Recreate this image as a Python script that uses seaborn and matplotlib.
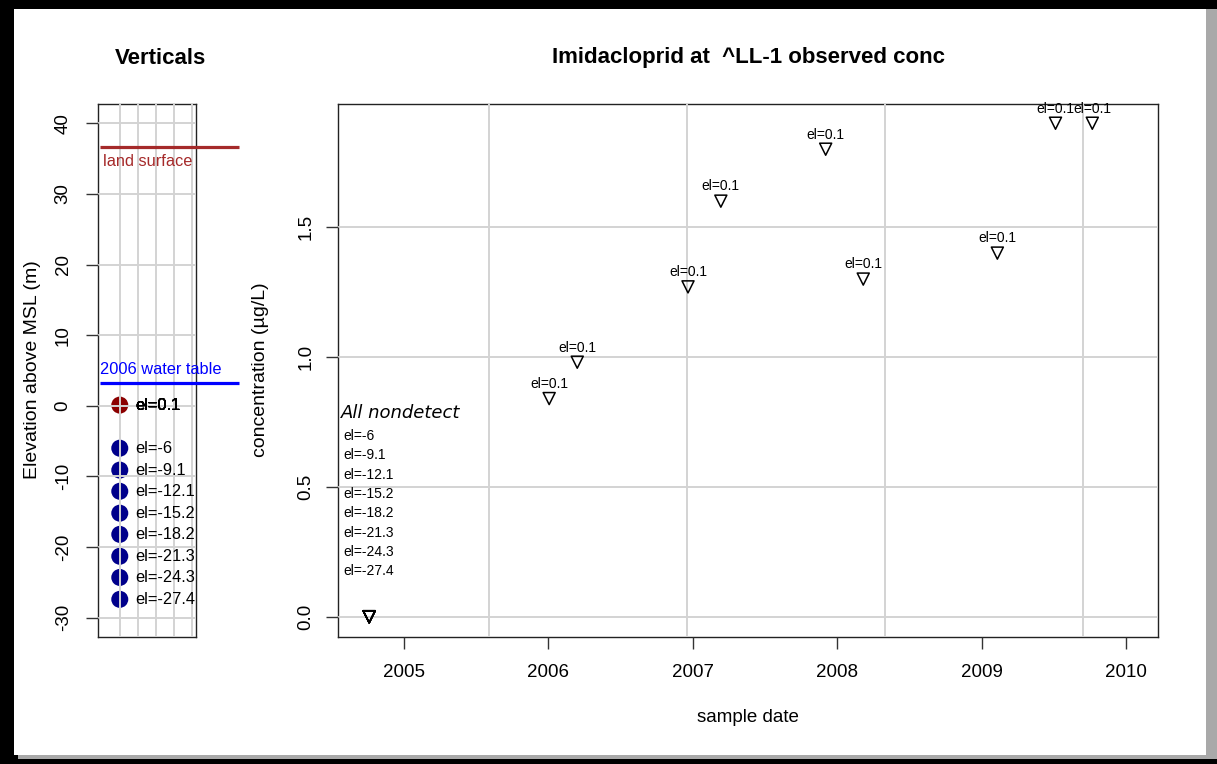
import numpy as np
import pandas as pd
import matplotlib
matplotlib.use("Agg")
import matplotlib.pyplot as plt
import seaborn as sns
from matplotlib.patches import Rectangle
from matplotlib.ticker import FixedLocator, NullFormatter

# ---------------- data ----------------
well_elev = [0.1, -6, -9.1, -12.1, -15.2, -18.2, -21.3, -24.3, -27.4]
well_status = ["detect", "nondetect", "nondetect", "nondetect", "nondetect",
               "nondetect", "nondetect", "nondetect", "nondetect"]
land_surface = 36.6
water_table_2006 = 3.2

detect_dates = ["2006-01-03", "2006-03-15", "2006-12-20", "2007-03-13", "2007-12-03",
                "2008-03-07", "2009-02-09", "2009-07-06", "2009-10-07"]
detect_conc = [0.84, 0.98, 1.27, 1.60, 1.80, 1.30, 1.40, 1.90, 1.90]
detect_el = [0.1] * len(detect_dates)

nondetect_date = "2004-10-05"
nondetect_conc = 0.0

elev_ticks = [-30, -20, -10, 0, 10, 20, 30, 40]
conc_ticks = [0.0, 0.5, 1.0, 1.5]
conc_tick_labels = ["0.0", "0.5", "1.0", "1.5"]
years = [2005, 2006, 2007, 2008, 2009, 2010]
grid_days = [13000, 13500, 14000, 14500]  # R pretty() grid on date axis (days)

# ---------------- tables ----------------
wells = pd.DataFrame({"el": well_elev, "status": well_status})
wells["col"] = 1
nd_elevs = wells.loc[wells.status == "nondetect", "el"].tolist()
samples = pd.concat([
    pd.DataFrame({"date": pd.to_datetime(detect_dates), "conc": detect_conc,
                  "el": detect_el, "status": "detect"}),
    pd.DataFrame({"date": pd.to_datetime([nondetect_date] * len(nd_elevs)),
                  "conc": nondetect_conc, "el": nd_elevs, "status": "nondetect"}),
], ignore_index=True)

# ---------------- style ----------------
sns.set_theme(style="white")
plt.rcParams["font.family"] = ["Liberation Sans", "DejaVu Sans"]
plt.rcParams["axes.edgecolor"] = "#222222"
plt.rcParams["axes.linewidth"] = 1.0
plt.rcParams["text.color"] = "black"
plt.rcParams["axes.labelcolor"] = "black"
plt.rcParams["xtick.color"] = "black"
plt.rcParams["ytick.color"] = "black"

W, H = 1217, 764
fig = plt.figure(figsize=(W / 100, H / 100), dpi=100, facecolor="black")
fig.patches.append(Rectangle((14 / W, (H - 755) / H), (1206 - 14) / W, (755 - 9) / H,
                             transform=fig.transFigure, facecolor="white",
                             edgecolor="none", zorder=-10))
fig.patches.append(Rectangle((1206 / W, (H - 759) / H), 11 / W, (759 - 9) / H,
                             transform=fig.transFigure, facecolor="#a9a9a9",
                             edgecolor="none", zorder=-10))
fig.patches.append(Rectangle((18 / W, (H - 759) / H), (W - 18) / W, 4 / H,
                             transform=fig.transFigure, facecolor="#a9a9a9",
                             edgecolor="none", zorder=-10))

grid_col = "#d3d3d3"
tick_fs = 13.5

# ---------------- left panel ----------------
axL = fig.add_axes([98 / W, (H - 636.5) / H, 98 / W, 533 / H])
axL.set_facecolor("white")
sns.scatterplot(data=wells, x="col", y="el", hue="status",
                palette={"detect": "#8b0000", "nondetect": "#00008b"},
                s=150, linewidth=0, legend=False, ax=axL, zorder=1)
for _, r in samples.iterrows():
    t = axL.annotate(f"el={r.el:g}", (1, r.el), xytext=(11.5, 0), textcoords="offset points",
                     ha="left", va="center", fontsize=11.8, color="black")
    t.set_clip_on(True)
    t.set_clip_path(axL.patch)
axL.plot([-0.09, 7.57], [land_surface] * 2, color="#a52a2a", lw=2.3, clip_on=False,
         solid_capstyle="butt", zorder=3)
axL.annotate("land surface", (0.075, land_surface), xytext=(0, -4.5),
             textcoords="offset points", ha="left", va="top", color="#a52a2a", fontsize=11.8)
axL.plot([-0.09, 7.57], [water_table_2006] * 2, color="#0000ff", lw=2.3, clip_on=False,
         solid_capstyle="butt", zorder=3)
axL.annotate("2006 water table", (-0.09, water_table_2006), xytext=(0, 6.3),
             textcoords="offset points", ha="left", va="baseline", color="#0000ff",
             fontsize=11.8)
axL.set_xlim(-0.2, 5.2)
axL.set_ylim(-32.66, 42.8)
axL.set_xticks([1, 2, 3, 4, 5])
axL.set_xticklabels([])
axL.set_yticks(elev_ticks)
axL.set_yticklabels([str(t) for t in elev_ticks])
axL.tick_params(axis="x", length=0)
axL.tick_params(axis="y", left=True, length=8.4, width=1, color="#333333",
                labelsize=tick_fs, labelrotation=90, pad=10.5, labelcolor="black")
for lab in axL.get_yticklabels():
    lab.set_va("center")
axL.set_axisbelow(False)
axL.grid(True, color=grid_col, lw=1.4)
axL.set_xlabel("")
axL.set_ylabel("Elevation above MSL (m)", fontsize=14)
axL.yaxis.set_label_coords(-0.58, 0.5)
for s in axL.spines.values():
    s.set_visible(True)

# ---------------- right panel ----------------
axR = fig.add_axes([338 / W, (H - 636.5) / H, 820 / W, 533 / H])
axR.set_facecolor("white")
sns.scatterplot(data=samples, x="date", y="conc", marker="v", s=75,
                facecolor="none", edgecolor="black", linewidth=1.1,
                legend=False, ax=axR, zorder=4)
for _, r in samples[samples.status == "detect"].iterrows():
    axR.annotate(f"el={r.el:g}", (r.date, r.conc), xytext=(0, 7.7),
                 textcoords="offset points", ha="center", va="baseline", fontsize=10)
axR.text(0.004, 0.419, "All nondetect", transform=axR.transAxes, fontsize=13,
         style="italic", family=["DejaVu Sans"], ha="left", va="center")
for i, el in enumerate(nd_elevs):
    axR.annotate(f"el={el:g}", (0.006, 0.376), xycoords="axes fraction",
                 xytext=(0, -13.9 * i), textcoords="offset points",
                 ha="left", va="center", fontsize=10)

axR.set_xlim(12617.2, 14690.1)
axR.set_ylim(-0.076, 1.976)
axR.set_xticks([pd.Timestamp(f"{y}-01-01") for y in years])
axR.set_xticklabels([str(y) for y in years])
axR.xaxis.set_minor_locator(FixedLocator(grid_days))
axR.xaxis.set_minor_formatter(NullFormatter())
axR.set_yticks(conc_ticks)
axR.set_yticklabels(conc_tick_labels)
axR.tick_params(axis="x", which="major", bottom=True, length=8.4, width=1,
                color="#333333", labelsize=tick_fs, pad=11.5, labelcolor="black")
axR.tick_params(axis="x", which="minor", bottom=False, length=0)
axR.tick_params(axis="y", left=True, length=8.4, width=1, color="#333333",
                labelsize=tick_fs, labelrotation=90, pad=8.6, labelcolor="black")
for lab in axR.get_yticklabels():
    lab.set_va("center")
axR.set_axisbelow(False)
axR.grid(False)
axR.grid(True, axis="x", which="minor", color=grid_col, lw=1.4)
axR.grid(True, axis="y", which="major", color=grid_col, lw=1.4)
axR.set_xlabel("sample date", fontsize=13.5)
axR.xaxis.set_label_coords(0.5, -0.136)
axR.set_ylabel("concentration (µg/L)", fontsize=14)
axR.yaxis.set_label_coords(-0.084, 0.5)
for s in axR.spines.values():
    s.set_visible(True)

# ---------------- titles ----------------
fig.text(160 / W, 1 - 58 / H, "Verticals", ha="center", va="center",
         fontsize=16, fontweight="bold", color="black")
fig.text(748 / W, 1 - 58 / H, "Imidacloprid at  ^LL-1 observed conc", ha="center",
         va="center", fontsize=16, fontweight="bold", color="black")

fig.savefig("out.png", dpi=100, facecolor=fig.get_facecolor())
